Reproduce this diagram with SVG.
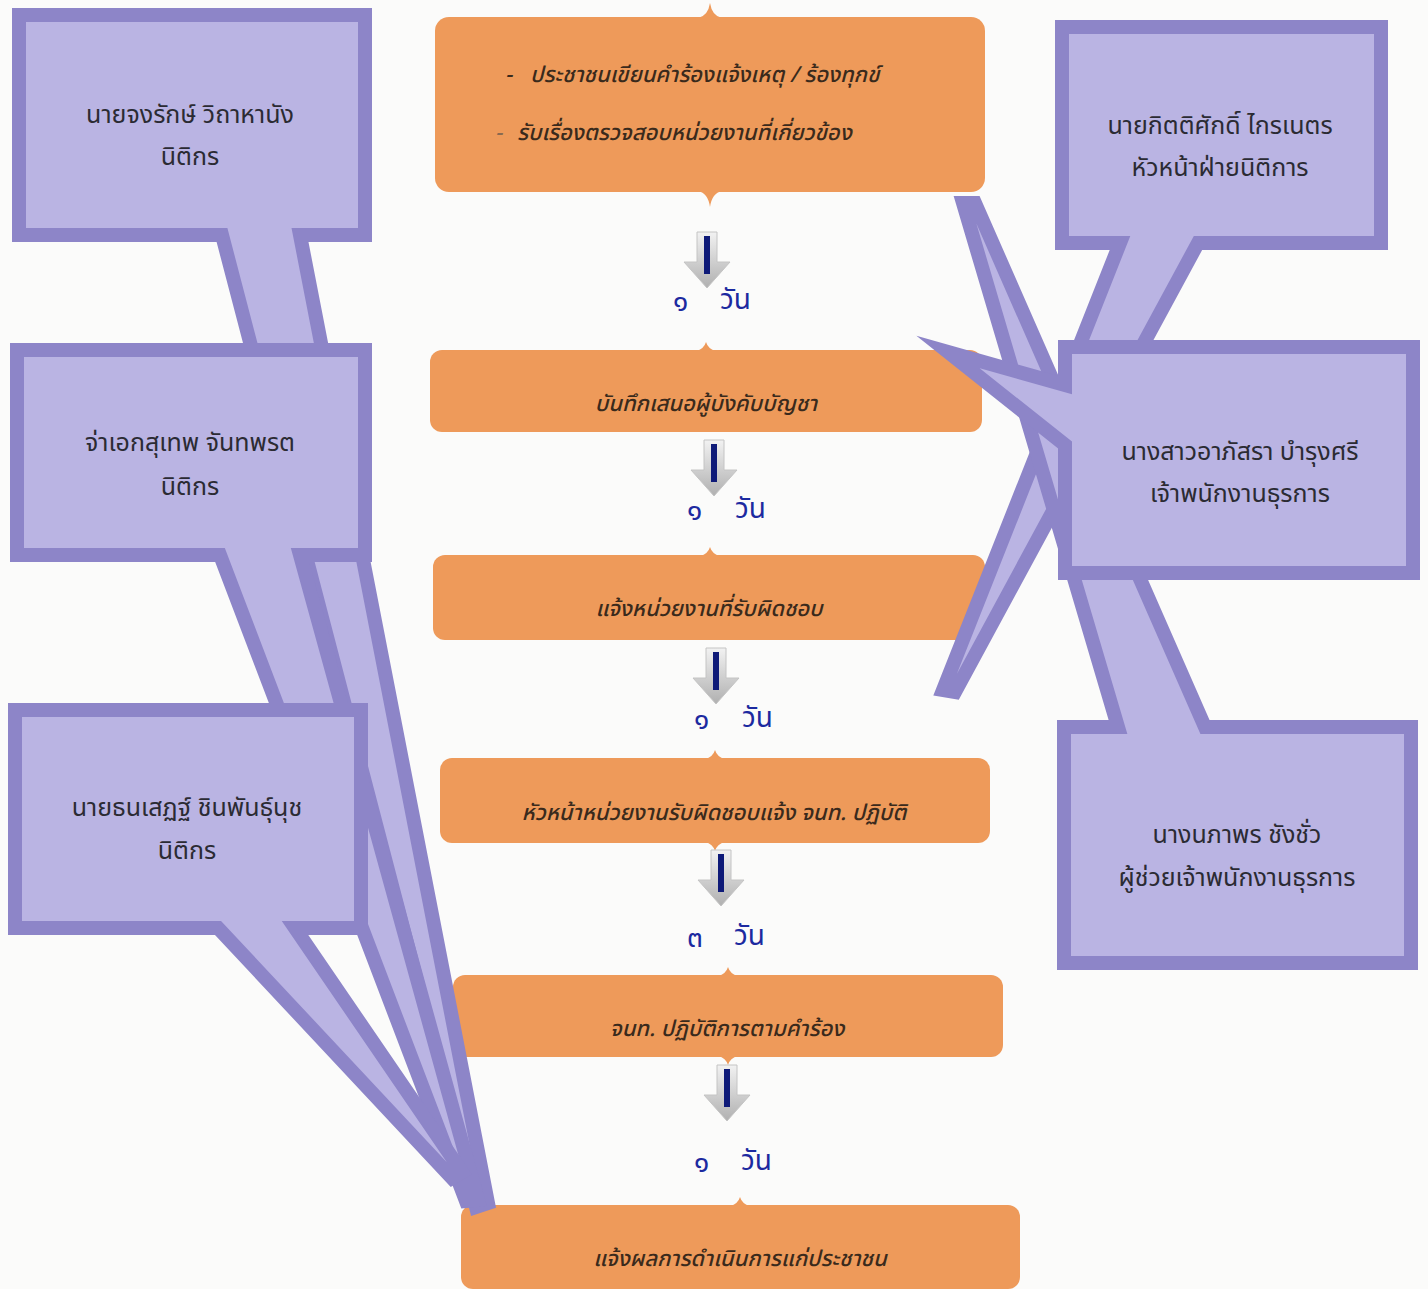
<svg xmlns="http://www.w3.org/2000/svg" width="1428" height="1289" viewBox="0 0 1428 1289">
<defs>
<style>
.co{fill:#bab4e3;stroke:#8d85c8;stroke-width:14;stroke-linejoin:miter;stroke-miterlimit:6}
.ct{font-family:"Noto Sans Thai","Noto Sans","DejaVu Sans",sans-serif;font-size:25px;fill:#2b2b33;text-anchor:middle}
.box{fill:#ee9a5a}
.bt{font-family:"Noto Sans Thai","Noto Sans","DejaVu Sans",sans-serif;font-size:22px;font-style:italic;font-weight:500;fill:#3a2a1c;text-anchor:middle}
.day{font-family:"Noto Sans Thai","Noto Sans","DejaVu Sans",sans-serif;font-size:28px;fill:#1c2aa0}
.ar{fill:url(#ag);stroke:#c4c4c4;stroke-width:1}
.bar{fill:#0e1a78}
</style>
<linearGradient id="ag" x1="0" y1="0" x2="0" y2="1">
<stop offset="0" stop-color="#f2f2f2"/>
<stop offset="1" stop-color="#b0b0b0"/>
</linearGradient>
<g id="arrowShape">
<path class="ar" d="M-10,0 H10 V30 H23 L0,56 L-23,30 H-10 Z"/>
<rect class="bar" x="-3" y="4" width="6" height="38"/>
</g>
</defs>
<rect width="1428" height="1289" fill="#fbfbfa"/>

<g id="step-1">
<rect class="box" x="435" y="17" width="550" height="175" rx="14"/>
<path class="box" d="M698,18 Q708,16 710,3 Q712,16 722,18 Z M698,191 Q708,193 710,207 Q712,193 722,191 Z"/>
<text class="bt" x="505" y="82" style="text-anchor:start">-</text>
<text class="bt" x="530" y="82" style="text-anchor:start">ประชาชนเขียนคำร้องแจ้งเหตุ / ร้องทุกข์</text>
<text class="bt" x="495" y="140" style="text-anchor:start;fill:#8a6a50">-</text>
<text class="bt" x="517" y="140" style="text-anchor:start">รับเรื่องตรวจสอบหน่วยงานที่เกี่ยวข้อง</text>
</g>
<g id="step-2">
<rect class="box" x="430" y="350" width="552" height="82" rx="12"/>
<path class="box" d="M696,351 Q704,349 706,342 Q708,349 716,351 Z"/>
<text class="bt" x="706" y="411">บันทึกเสนอผู้บังคับบัญชา</text>
</g>
<g id="step-3">
<rect class="box" x="433" y="555" width="552" height="85" rx="12"/>
<path class="box" d="M700,556 Q708,554 710,547 Q712,554 720,556 Z"/>
<text class="bt" x="709" y="616">แจ้งหน่วยงานที่รับผิดชอบ</text>
</g>
<g id="step-4">
<rect class="box" x="440" y="758" width="550" height="85" rx="12"/>
<path class="box" d="M705,759 Q713,757 715,750 Q717,757 725,759 Z M705,842 Q713,844 715,851 Q717,844 725,842 Z"/>
<text class="bt" x="714" y="820">หัวหน้าหน่วยงานรับผิดชอบแจ้ง จนท. ปฏิบัติ</text>
</g>
<g id="step-5">
<rect class="box" x="453" y="975" width="550" height="82" rx="12"/>
<path class="box" d="M718,976 Q726,974 728,967 Q730,974 738,976 Z M718,1056 Q726,1058 728,1065 Q730,1058 738,1056 Z"/>
<text class="bt" x="727" y="1036">จนท. ปฏิบัติการตามคำร้อง</text>
</g>
<g id="step-6">
<rect class="box" x="461" y="1205" width="559" height="84" rx="12"/>
<path class="box" d="M730,1206 Q738,1204 740,1197 Q742,1204 750,1206 Z"/>
<text class="bt" x="740" y="1266">แจ้งผลการดำเนินการแก่ประชาชน</text>
</g>

<g id="callout-left-1">
<path class="co" d="M19,15 H365 V235 H300 L488,1203 L476,1207 L222,235 H19 Z"/>
<text class="ct" x="190" y="123">นายจงรักษ์  วิถาหานัง</text>
<text class="ct" x="190" y="165">นิติกร</text>
</g>
<g id="callout-left-2">
<path class="co" d="M17,350 H365 V555 H300 L478,1200 L466,1201 L220,555 H17 Z"/>
<text class="ct" x="190" y="451">จ่าเอกสุเทพ  จันทพรต</text>
<text class="ct" x="190" y="495">นิติกร</text>
</g>
<g id="callout-left-3">
<path class="co" d="M15,710 H361 V928 H295 L462,1172 L452,1178 L218,928 H15 Z"/>
<text class="ct" x="187" y="816">นายธนเสฏฐ์  ชินพันธุ์นุช</text>
<text class="ct" x="187" y="859">นิติกร</text>
</g>

<g id="callout-right-1">
<path class="co" d="M1062,27 H1381 V243 H1198 L955,692 L943,690 L1120,243 H1062 Z"/>
<text class="ct" x="1220" y="134">นายกิตติศักดิ์  ไกรเนตร</text>
<text class="ct" x="1220" y="176">หัวหน้าฝ่ายนิติการ</text>
</g>
<g id="callout-right-3">
<path class="co" d="M1064,727 H1118 L963,203 L975,203 L1205,727 H1411 V963 H1064 Z"/>
<text class="ct" x="1237" y="843">นางนภาพร  ชังชั่ว</text>
<text class="ct" x="1237" y="886">ผู้ช่วยเจ้าพนักงานธุรการ</text>
</g>
<g id="callout-right-2">
<path class="co" d="M1065,347 H1413 V573 H1065 V445 L948,352 L1065,385 Z"/>
<text class="ct" x="1240" y="460">นางสาวอาภัสรา  บำรุงศรี</text>
<text class="ct" x="1240" y="502">เจ้าพนักงานธุรการ</text>
</g>

<g id="connectors">
<use href="#arrowShape" x="707" y="232"/>
<text class="day" x="673" y="311">๑</text><text class="day" x="720" y="309">วัน</text>
<use href="#arrowShape" x="714" y="440"/>
<text class="day" x="687" y="520">๑</text><text class="day" x="735" y="518">วัน</text>
<use href="#arrowShape" x="716" y="648"/>
<text class="day" x="694" y="729">๑</text><text class="day" x="742" y="727">วัน</text>
<use href="#arrowShape" x="721" y="850"/>
<text class="day" x="687" y="947">๓</text><text class="day" x="734" y="945">วัน</text>
<use href="#arrowShape" x="727" y="1065"/>
<text class="day" x="694" y="1172">๑</text><text class="day" x="741" y="1170">วัน</text>
</g>
</svg>
